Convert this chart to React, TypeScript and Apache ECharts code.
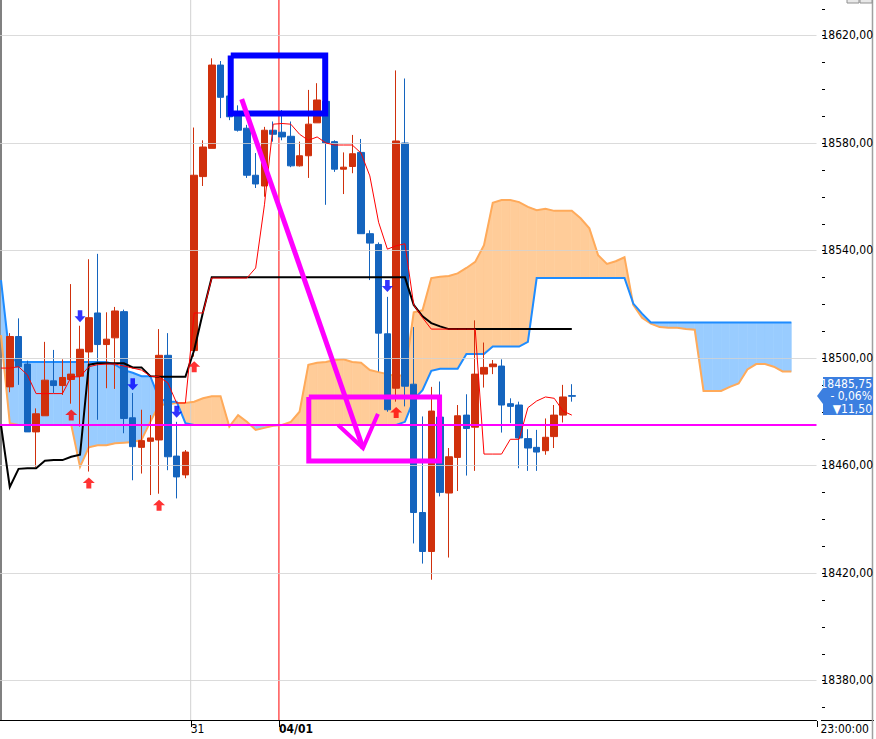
import React, { useEffect, useRef } from 'react';
import * as echarts from 'echarts';

// ---------- data ----------
const FIRST_BAR = 1; // index of the first complete candle
const candleOpen = [18489.25, 18508, 18497.75, 18472.5, 18478.5, 18491.5, 18489.75, 18492, 18493.25, 18502.25, 18516.75, 18505, 18507.5, 18517.25, 18477.75, 18466.75, 18469, 18469.5, 18501, 18463.5, 18456.5, 18502.75, 18567.5, 18578, 18609, 18597.5, 18590.5, 18585.5, 18568, 18564, 18584.75, 18584, 18582.5, 18571.5, 18575.25, 18587.5, 18595.5, 18580.5, 18570.25, 18571.25, 18576.5, 18546.25, 18542.25, 18509, 18488.75, 18580, 18490.25, 18442.5, 18428, 18478, 18449.75, 18463, 18478.75, 18474.25, 18494, 18496.75, 18497, 18483, 18482.5, 18470, 18466.75, 18465.5, 18470.75, 18478.75, 18486];
const candleClose = [18508, 18496.75, 18472.5, 18479.25, 18491.75, 18489.75, 18492.75, 18494, 18503.25, 18515, 18505, 18507, 18517.5, 18477.5, 18467, 18469.25, 18470.25, 18501, 18463.25, 18455.75, 18465, 18568, 18578.5, 18609, 18597, 18589.75, 18584.75, 18568, 18564.75, 18584.75, 18583.25, 18582.25, 18571.5, 18575.25, 18587, 18596, 18580, 18570.25, 18571, 18576, 18546.25, 18542.75, 18509.25, 18480.75, 18580.75, 18489.5, 18442.5, 18428, 18480.25, 18450, 18463.25, 18478.5, 18473.75, 18494, 18496.5, 18497.75, 18482.5, 18482, 18470.25, 18466.5, 18465, 18470.5, 18478.75, 18485.5, 18485.75];
const candleLow = [18487.25, 18490, 18472.5, 18459.5, 18478.5, 18487, 18486.25, 18483, 18474.5, 18457.75, 18477, 18488.75, 18488.5, 18472, 18454.5, 18457, 18449, 18449.5, 18458.25, 18447.75, 18455.25, 18500.5, 18564, 18578, 18589.25, 18588.5, 18584.25, 18567, 18563.25, 18560, 18580.5, 18581, 18571, 18571.25, 18567, 18587.5, 18557, 18569.25, 18561, 18568.75, 18546.25, 18529, 18495, 18480, 18483.75, 18482, 18431, 18423.5, 18417.5, 18448.5, 18425.75, 18450.5, 18456.25, 18458, 18489, 18494, 18472.25, 18475.75, 18459, 18458, 18458, 18464, 18466.5, 18476, 18483.75];
const candleHigh = [18509.25, 18514.75, 18499, 18481.25, 18506, 18503, 18499.5, 18527.5, 18512, 18536.75, 18538.75, 18517, 18519, 18518, 18487, 18480.75, 18478.75, 18510.75, 18509.25, 18476.25, 18465.75, 18585.75, 18581, 18611.5, 18610.5, 18598, 18594, 18586.75, 18576.25, 18586, 18588, 18592.25, 18588, 18580.5, 18599.75, 18602.25, 18596.75, 18581, 18576.5, 18583, 18581.5, 18547.5, 18543, 18522.75, 18607, 18604, 18511.5, 18478.25, 18489.25, 18491.25, 18466.5, 18482.5, 18486.5, 18514, 18505.75, 18499.25, 18499.5, 18485, 18483.75, 18473.5, 18473.25, 18477.5, 18482.5, 18490, 18490.25];

// Ichimoku lines, one value per bar slot starting at slot 0
const tenkan = [18496.25, 18496.25, 18496.75, 18493.75, 18486.75, 18486.75, 18486.75, 18486.75, 18493, 18493, 18496.75, 18497.5, 18497.75, 18497.75, 18497, 18496.25, 18495.5, 18493.25, 18493, 18490.75, 18483.25, 18483.25, 18516.75, 18516.75, 18529.75, 18529.75, 18529.75, 18529.75, 18529.75, 18533.5, 18557, 18587, 18587.25, 18587, 18583.25, 18581, 18582.25, 18580, 18579.25, 18579.25, 18579.25, 18576.25, 18567.75, 18550.5, 18540.5, 18541.75, 18542.5, 18519.75, 18515, 18510.75, 18510.75, 18510.75, 18510.75, 18510.75, 18510.75, 18464.25, 18464.25, 18464.25, 18469.75, 18469.75, 18481.5, 18484, 18485.5, 18485, 18480.25, 18478.75];
const kijun = [18475, 18452, 18458.75, 18459, 18459, 18461.75, 18462, 18462, 18463.25, 18464, 18497.5, 18498, 18498, 18498, 18498, 18496.5, 18496.5, 18493.25, 18493, 18493, 18493, 18493, 18503, 18517, 18530, 18530, 18530, 18530, 18530, 18530, 18530, 18530, 18530, 18530, 18530, 18530, 18530, 18530, 18530, 18530, 18530, 18530, 18530, 18530, 18530, 18530, 18530, 18519.75, 18515.5, 18513, 18511.75, 18510.75, 18510.75, 18510.75, 18510.75, 18510.75, 18510.75, 18510.75, 18510.75, 18510.75, 18510.75, 18510.75, 18510.75, 18510.75, 18510.75, 18510.75];
const senkouA = [18529, 18500, 18498.5, 18498.5, 18498.5, 18498.5, 18498.5, 18498.5, 18498.5, 18498.5, 18498.5, 18498.5, 18498.5, 18497.5, 18495.5, 18494.5, 18493.25, 18493.25, 18485, 18483.75, 18483.75, 18475.75, 18475.1, 18475.1, 18475.1, 18475.1, 18475.1, 18475.1, 18475.1, 18475.1, 18475.1, 18475.1, 18475.1, 18475.1, 18475.1, 18475.1, 18475.1, 18475.1, 18475.1, 18475.1, 18475.1, 18475.1, 18475.1, 18475.1, 18475.1, 18475.1, 18476.25, 18484.5, 18488, 18495.25, 18496, 18496, 18496, 18501.5, 18501.5, 18501.5, 18504.25, 18504.25, 18504.25, 18504.25, 18506, 18529.75, 18529.75, 18529.75, 18529.75, 18529.75, 18529.75, 18529.75, 18529.75, 18529.75, 18529.75, 18529.75, 18520.25, 18516.5, 18513.25, 18513.25, 18513.25, 18513.25, 18513.25, 18513.25, 18513.25, 18513.25, 18513.25, 18513.25, 18513.25, 18513.25, 18513.25, 18513.25, 18513.25, 18513.25, 18513.25];
const senkouB = [18508.5, 18475.75, 18475.1, 18475.1, 18475.1, 18475.1, 18475.1, 18475.1, 18475.1, 18459.5, 18466.75, 18467.5, 18467.5, 18468.25, 18468.5, 18468.75, 18469.5, 18476.25, 18482.5, 18482.75, 18483.25, 18483.25, 18483.75, 18485, 18485.75, 18485.75, 18474.5, 18478.75, 18476.25, 18473.25, 18474, 18474.75, 18475.1, 18476.25, 18480, 18497.5, 18498.25, 18498.5, 18499.25, 18499.5, 18498.5, 18498.25, 18495.5, 18494.75, 18494, 18493.25, 18493.75, 18517, 18517.75, 18529.75, 18530.25, 18530.5, 18531.5, 18533.5, 18535.75, 18542, 18557.75, 18558.75, 18558.75, 18558, 18556.25, 18555, 18555.5, 18554.75, 18554.75, 18554.75, 18552, 18548.25, 18538.25, 18535, 18536, 18537.5, 18519.75, 18515, 18512.75, 18511.5, 18511.25, 18511.25, 18510.75, 18510.5, 18487.75, 18487.75, 18487.75, 18489.25, 18490.5, 18495.75, 18497.75, 18497.75, 18496.75, 18495, 18495];

const buySignals = [[8, 18478.75], [10, 18453.5], [18, 18445.25], [22, 18496.75], [45, 18479.75]];
const sellSignals = [[9, 18515.5], [15, 18490.25], [20, 18480], [44, 18526.75]];

const yLabelValues = [18380, 18420, 18460, 18500, 18540, 18580, 18620];
const yTickValues = [18370, 18380, 18390, 18400, 18410, 18420, 18430, 18440, 18450, 18460, 18470, 18480, 18490, 18500, 18510, 18520, 18530, 18540, 18550, 18560, 18570, 18580, 18590, 18600, 18610, 18620, 18630];
const xMarkValues = [21.6, 31.65];
const xMarkLabels = ['31', '04/01'];
const xEndLabel = '23:00:00';
const priceBoxTexts = ['18485,75', '- 0,06%', '\u25BC11,50'];

// user drawings, in (bar slot, price) coordinates
const drawnLevel = 18475.1;
const blueBox = [[26.16, 18612.6], [36.92, 18591.0]];
const magentaBox = [[35.05, 18485.5], [49.94, 18461.7]];
const magentaArrow = [[27.41, 18596.3], [41.22, 18466.5]];
const magentaHead = [[38.39, 18475.1], [41.22, 18466.5], [42.92, 18479.2]];

const X_MIN = -0.1133;
const X_MAX = 92.865;
const Y_MIN = 18365.302;
const Y_MAX = 18633.209;

const RED = '#d0300c';
const BLUE = '#1464be';
const FONT = '"Liberation Sans Narrow", "DejaVu Sans Condensed", "Liberation Sans", Arial, sans-serif';

const fmtPrice = (v: number) => v.toFixed(2).replace('.', ',');

const boxPath = (b: number[][]) => [
  [b[0][0], b[0][1]],
  [b[1][0], b[0][1]],
  [b[1][0], b[1][1]],
  [b[0][0], b[1][1]],
  [b[0][0], b[0][1]],
];

export default function App() {
  const ref = useRef<HTMLDivElement>(null);

  useEffect(() => {
    if (!ref.current) return;
    const chart = echarts.init(ref.current, undefined, { renderer: 'svg' });

    const candleData = candleOpen.map((o, k) => [k + FIRST_BAR, o, candleClose[k], candleLow[k], candleHigh[k]]);
    const toXY = (arr: number[]) => arr.map((v, i) => [i, v]);
    const cloudData = senkouA.slice(0, -1).map((a, i) => [i, a, senkouB[i], senkouA[i + 1], senkouB[i + 1]]);

    const CLOUD_BLUE = '#99ccff';
    const CLOUD_ORANGE = '#ffcc99';

    const plainLine = (name: string, data: any[], color: string, width: number, z: number) => ({
      type: 'line',
      name,
      z,
      data,
      silent: true,
      showSymbol: false,
      symbol: 'none',
      lineStyle: { color, width, join: 'miter', cap: 'butt' },
    });

    const baseGraphic: any[] = [
      { type: 'line', shape: { x1: 821, y1: 720.5, x2: 874, y2: 720.5 }, style: { stroke: '#000', lineWidth: 1 } },
      { type: 'line', shape: { x1: 872.5, y1: 0, x2: 872.5, y2: 739 }, style: { stroke: '#a0a0a0', lineWidth: 1.5 } },
      { type: 'rect', shape: { x: 847, y: -6, width: 12, height: 9 }, style: { fill: '#e8e8e8', stroke: '#909090', lineWidth: 1 } },
      { type: 'rect', shape: { x: 860, y: -6, width: 12, height: 9 }, style: { fill: '#e8e8e8', stroke: '#909090', lineWidth: 1 } },
      {
        type: 'polygon',
        shape: { points: [[823, 377], [873, 377], [873, 415], [823, 415], [823, 404], [817, 396], [823, 388]] },
        style: { fill: '#3c7fe0' },
        z: 100,
      },
      ...priceBoxTexts.map((t, k) => ({
        type: 'text',
        z: 101,
        x: 872,
        y: 383.5 + k * 12.5,
        style: { text: t, fill: '#ffffff', font: `12px ${FONT}`, textAlign: 'right', textVerticalAlign: 'middle' },
      })),
    ];

    const option: any = {
      animation: false,
      backgroundColor: '#ffffff',
      grid: { left: 0, top: 0, width: 821, height: 720, containLabel: false },
      xAxis: {
        type: 'value',
        min: X_MIN,
        max: X_MAX,
        axisLine: { show: true, onZero: false, lineStyle: { color: '#000', width: 1 } },
        axisTick: { show: false },
        axisLabel: {
          show: true,
          customValues: [...xMarkValues, X_MAX],
          formatter: (v: number) => {
            for (let i = 0; i < xMarkValues.length; i++) {
              if (Math.abs(v - xMarkValues[i]) < 0.01) return i === 1 ? `{b|${xMarkLabels[i]}}` : xMarkLabels[i];
            }
            return `{e|${xEndLabel}}`;
          },
          align: 'left',
          margin: 3,
          color: '#000',
          fontSize: 12,
          fontFamily: FONT,
          hideOverlap: false,
          rich: {
            b: { fontWeight: 'bold', fontSize: 12, fontFamily: FONT, color: '#000' },
            e: { fontSize: 12, fontFamily: FONT, color: '#000', padding: [0, 0, 0, 4] },
          },
        },
        splitLine: { show: false },
      },
      yAxis: {
        type: 'value',
        position: 'right',
        min: Y_MIN,
        max: Y_MAX,
        axisLine: { show: true, lineStyle: { color: '#808080', width: 2 } },
        axisTick: { show: false },
        axisLabel: {
          show: true,
          customValues: yLabelValues,
          formatter: (v: number) => fmtPrice(v),
          margin: 5,
          color: '#000',
          fontSize: 12,
          fontFamily: FONT,
        },
        splitLine: { show: false },
      },
      series: [
        {
          type: 'custom',
          name: 'cloud',
          z: 1,
          clip: true,
          silent: true,
          encode: { x: 0, y: [1, 2, 3, 4] },
          data: cloudData,
          renderItem: (params: any, api: any) => {
            const i = api.value(0);
            const a0 = api.value(1), b0 = api.value(2), a1 = api.value(3), b1 = api.value(4);
            const pA0 = api.coord([i, a0]);
            const pB0 = api.coord([i, b0]);
            const pA1 = api.coord([i + 1, a1]);
            const pB1 = api.coord([i + 1, b1]);
            const d0 = a0 - b0, d1 = a1 - b1;
            const st = (c: string) => ({ fill: c, stroke: c, lineWidth: 0.6 });
            if (d0 * d1 >= 0) {
              const c = d0 + d1 >= 0 ? CLOUD_BLUE : CLOUD_ORANGE;
              return { type: 'polygon', shape: { points: [pA0, pA1, pB1, pB0] }, style: st(c) };
            }
            const t = d0 / (d0 - d1);
            const px = pA0[0] + (pA1[0] - pA0[0]) * t;
            const py = pA0[1] + (pA1[1] - pA0[1]) * t;
            return {
              type: 'group',
              children: [
                { type: 'polygon', shape: { points: [pA0, [px, py], pB0] }, style: st(d0 > 0 ? CLOUD_BLUE : CLOUD_ORANGE) },
                { type: 'polygon', shape: { points: [[px, py], pA1, pB1] }, style: st(d1 > 0 ? CLOUD_BLUE : CLOUD_ORANGE) },
              ],
            };
          },
        },
        {
          type: 'line',
          name: 'grid',
          z: 2,
          data: [],
          silent: true,
          markLine: {
            silent: true,
            symbol: ['none', 'none'],
            label: { show: false },
            lineStyle: { color: '#d2d2d2', width: 1, type: 'solid', opacity: 0.8 },
            data: yLabelValues.map((v) => ({ yAxis: v })),
          },
        },
        plainLine('day31', [[xMarkValues[0], Y_MIN], [xMarkValues[0], Y_MAX]], '#d2d2d2', 1, 2),
        plainLine('day0401', [[xMarkValues[1], Y_MIN], [xMarkValues[1], Y_MAX]], '#ff0000', 1, 2),
        plainLine('senkouB', toXY(senkouB), '#ffaa5a', 2, 3),
        plainLine('senkouA', toXY(senkouA), '#1e8cff', 2, 3),
        {
          type: 'candlestick',
          name: 'price',
          z: 4,
          data: candleData,
          barWidth: 7,
          itemStyle: { color: RED, color0: BLUE, borderColor: RED, borderColor0: BLUE, borderWidth: 1 },
        },
        plainLine('kijun', toXY(kijun), '#000000', 2, 5),
        plainLine('tenkan', toXY(tenkan), '#ff0000', 1, 5),
        {
          type: 'scatter',
          name: 'buy',
          z: 6,
          data: buySignals,
          symbol: 'path://M6,0 L12,6 L8.5,6 L8.5,12 L3.5,12 L3.5,6 L0,6 Z',
          symbolSize: [12, 11],
          itemStyle: { color: '#ff0000' },
        },
        {
          type: 'scatter',
          name: 'sell',
          z: 6,
          data: sellSignals,
          symbol: 'path://M3.5,0 L8.5,0 L8.5,6 L12,6 L6,12 L0,6 L3.5,6 Z',
          symbolSize: [11, 12],
          itemStyle: { color: '#0000ff' },
        },
        plainLine('level', [[X_MIN, drawnLevel], [X_MAX, drawnLevel]], '#ff00ff', 2, 7),
        plainLine('blueBox', boxPath(blueBox), '#0000ff', 6, 7),
        plainLine('magentaBox', boxPath(magentaBox), '#ff00ff', 5, 7),
        plainLine('magentaArrow', magentaArrow, '#ff00ff', 5, 7),
        plainLine('magentaHead', magentaHead, '#ff00ff', 4, 7),
      ],
      graphic: baseGraphic,
    };

    chart.setOption(option);

    // axis ticks placed through the chart's own scales
    const yTicks = yTickValues.map((v) => {
      const y = Math.round(chart.convertToPixel({ yAxisIndex: 0 }, v) as number) + 0.5;
      return { type: 'line', shape: { x1: 822, y1: y, x2: 825, y2: y }, style: { stroke: '#000', lineWidth: 1 } };
    });
    const xTicks = [...xMarkValues, X_MAX].map((v) => {
      const x = Math.round(chart.convertToPixel({ xAxisIndex: 0 }, v) as number) + 0.5;
      return { type: 'line', shape: { x1: x, y1: 721, x2: x, y2: 727 }, style: { stroke: '#000', lineWidth: 1 } };
    });
    chart.setOption({ graphic: [...baseGraphic, ...yTicks, ...xTicks] });

    return () => chart.dispose();
  }, []);

  return (
    <div
      ref={ref}
      style={{ position: 'fixed', left: 0, top: 0, width: 876, height: 739, background: '#fff' }}
    />
  );
}
